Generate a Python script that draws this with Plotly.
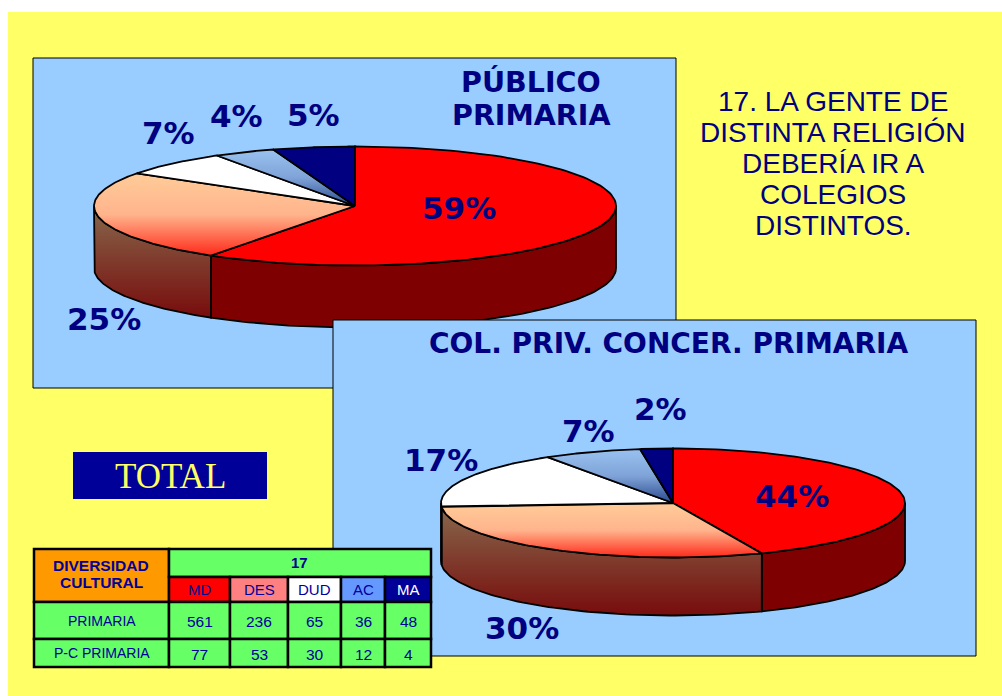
import numpy as np
import plotly.graph_objects as go

CATEGORIES = ["MD", "DES", "DUD", "AC", "MA"]
PRIMARIA = [561, 236, 65, 36, 48]
PC_PRIMARIA = [77, 53, 30, 12, 4]
ROW_LABELS = ["PRIMARIA", "P-C PRIMARIA"]

NAVY = "#000080"
INK = "#000099"
YELLOW = "#FFFF66"
PANEL = "#99CCFF"
GREEN = "#66FF66"

# top face colour (plain or gradient), side colour (plain or gradient)
TOP_STYLE = [
    "#FF0000",
    ["#FFCC99", "#FFB48C", "#FF2A1A"],
    "#FFFFFF",
    ["#99C2F0", "#7FA3D8", "#2A4A8E"],
    "#000080",
]
SIDE_STYLE = [
    "#7F0000",
    ["#86684C", "#780C0C"],
    "#808080",
    ["#4C6178", "#152547"],
    "#000040",
]
HEADER_FILL = ["#FF0000", "#FF8080", "#FFFFFF", "#6699FF", "#000099"]
HEADER_TEXT = [INK, INK, INK, INK, "#FFFFFF"]

fig = go.Figure()


def fill_args(style):
    if isinstance(style, list):
        # y axis runs downwards here, so the scale is written bottom to top
        stops = np.linspace(0, 1, len(style))
        return dict(fillgradient=dict(type="vertical",
                                      colorscale=[[s, c] for s, c in zip(stops, style[::-1])]))
    return dict(fillcolor=style)


def add_poly(xs, ys, style, line_width=1.8):
    fig.add_trace(go.Scatter(
        x=xs, y=ys, mode="lines", fill="toself",
        line=dict(color="#000000", width=line_width),
        hoverinfo="skip", showlegend=False,
        **fill_args(style),
    ))


def add_panel(x0, y0, x1, y1):
    add_poly([x0, x1, x1, x0, x0], [y0, y0, y1, y1, y0], PANEL, 1)


def add_pie(values, cx, cy, rx, ry, depth):
    shares = np.array(values) / sum(values)
    edges = np.concatenate([[0], np.cumsum(shares) * 360])

    # side wall, only the front half (90-270 deg clockwise from the top) shows
    for i in range(len(values)):
        a0, a1 = max(edges[i], 90), min(edges[i + 1], 270)
        if a1 <= a0:
            continue
        t = np.radians(np.linspace(a0, a1, 80))
        px = cx + rx * np.sin(t)
        py = cy - ry * np.cos(t)
        add_poly(np.r_[px, px[::-1], px[0]], np.r_[py, py[::-1] + depth, py[0]], SIDE_STYLE[i])

    for i in range(len(values)):
        t = np.radians(np.linspace(edges[i], edges[i + 1], 120))
        px = cx + rx * np.sin(t)
        py = cy - ry * np.cos(t)
        add_poly(np.r_[cx, px, cx], np.r_[cy, py, cy], TOP_STYLE[i])


def pct_labels(values):
    return [f"{round(v / sum(values) * 100)}%" for v in values]


def label(x, y, text, size, color=NAVY, family="DejaVu Sans", bold=True):
    fig.add_annotation(
        x=x, y=y, text=f"<b>{text}</b>" if bold else text, showarrow=False,
        font=dict(family=family, size=size, color=color),
        xanchor="center", yanchor="middle", align="center",
    )


add_panel(33, 58, 676, 388)
add_pie(PRIMARIA, 355, 206, 261, 59.5, 62)
add_panel(333, 320, 976, 656)
add_pie(PC_PRIMARIA, 673, 503, 232, 54.5, 58)

for (x, y), text in zip([(459, 208), (104, 319), (168, 133), (236, 116), (313, 115)], pct_labels(PRIMARIA)):
    label(x, y, text, 31)
for (x, y), text in zip([(792, 496), (522, 628), (441, 460), (588, 431), (660, 409)], pct_labels(PC_PRIMARIA)):
    label(x, y, text, 31)

label(531, 82, "PÚBLICO", 28.5)
label(531, 115, "PRIMARIA", 28.5)
label(668, 343, "COL. PRIV. CONCER. PRIMARIA", 28)

for y, text in zip([101, 132, 163, 194, 225],
                   ["17. LA GENTE DE", "DISTINTA RELIGIÓN", "DEBERÍA IR A", "COLEGIOS", "DISTINTOS."]):
    label(833, y, text, 28, family="Liberation Sans", bold=False)

# page background and TOTAL box
shapes = [
    dict(type="rect", x0=8, y0=12, x1=1002, y1=696, fillcolor=YELLOW, line_width=0, layer="below"),
    dict(type="rect", x0=73, y0=452, x1=267, y1=499, fillcolor="#000099", line_width=0, layer="above"),
]
label(170, 476, "TOTAL", 35, color=YELLOW, family="Liberation Serif", bold=False)

# table grid
col_x = [34, 169, 230, 288, 341, 385, 431]
row_y = [549, 577, 602, 639, 667]


def cell(x0, y0, x1, y1, fill):
    shapes.append(dict(type="rect", x0=x0, y0=y0, x1=x1, y1=y1, fillcolor=fill,
                       line=dict(color="#000000", width=2.5), layer="above"))


cell(col_x[0], row_y[0], col_x[1], row_y[2], "#FF9900")
cell(col_x[1], row_y[0], col_x[6], row_y[1], GREEN)
label(101, 565, "DIVERSIDAD", 15.5, color=INK, family="Liberation Sans")
label(101, 582, "CULTURAL", 15.5, color=INK, family="Liberation Sans")
label(299, 562, "17", 15, color=INK, family="Liberation Sans")

for i, cat in enumerate(CATEGORIES):
    x0, x1 = col_x[i + 1], col_x[i + 2]
    cell(x0, row_y[1], x1, row_y[2], HEADER_FILL[i])
    label((x0 + x1) / 2, 589, cat, 15, color=HEADER_TEXT[i], family="Liberation Sans", bold=False)

for r, (name, row) in enumerate(zip(ROW_LABELS, [PRIMARIA, PC_PRIMARIA])):
    y0, y1 = row_y[r + 2], row_y[r + 3]
    cell(col_x[0], y0, col_x[1], y1, GREEN)
    label(102, (y0 + y1) / 2, name, 14, color=INK, family="Liberation Sans", bold=False)
    for i, v in enumerate(row):
        x0, x1 = col_x[i + 1], col_x[i + 2]
        cell(x0, y0, x1, y1, GREEN)
        label((x0 + x1) / 2, (y0 + y1) / 2 + 1, str(v), 15.5, color=INK, family="Liberation Sans", bold=False)

fig.update_layout(
    width=1002, height=696,
    margin=dict(l=0, r=0, t=0, b=0),
    paper_bgcolor="#FFFFFF", plot_bgcolor="#FFFFFF",
    xaxis=dict(range=[0, 1002], visible=False, fixedrange=True),
    yaxis=dict(range=[696, 0], visible=False, fixedrange=True),
    shapes=shapes,
    showlegend=False,
)

fig.write_html("out.html", config=dict(displayModeBar=False),
               post_script="document.body.style.margin='0';document.body.style.overflow='hidden';")
